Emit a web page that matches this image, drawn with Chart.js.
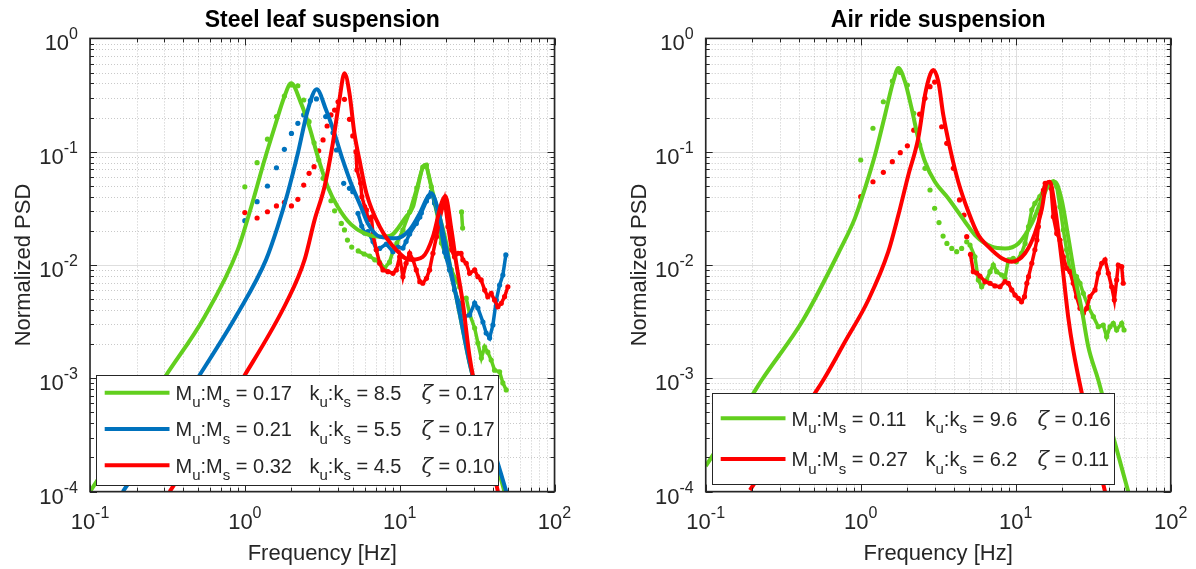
<!DOCTYPE html>
<html>
<head>
<meta charset="utf-8">
<script src="https://cdn.jsdelivr.net/npm/chart.js@4.4.1/dist/chart.umd.min.js"></script>
<style>
  body { margin: 0; background: #fff; }
  .wrap { position: relative; width: 1196px; height: 569px; }
  canvas { position: absolute; top: 0; }
</style>
</head>
<body>
<div class="wrap">
  <canvas id="steelChart" width="598" height="569" style="left:0"></canvas>
  <canvas id="airChart" width="598" height="569" style="left:598px"></canvas>
</div>
<script>
// Decades shown on the log axes
const xDecades = [-1, 0, 1, 2];
const yDecades = [-4, -3, -2, -1, 0];

// --- Steel leaf suspension: fitted model curves ---
const steelGreenFitF = [0.1, 0.311, 0.55, 0.90, 1.10, 1.34, 1.56, 1.80, 1.99, 2.31, 2.61, 2.96, 3.43, 3.98, 4.85, 5.92, 7.4, 8.6, 11.0, 12.2, 12.8, 14.5, 16.4, 18.1, 20.0, 21.0, 23.2, 25.6, 28.3, 47.5];
const steelGreenFitP = [1.0e-4, 1.07e-3, 3.5e-3, 0.0136, 0.0327, 0.0845, 0.166, 0.306, 0.402, 0.267, 0.166, 0.0903, 0.0491, 0.0327, 0.0228, 0.0190, 0.0178, 0.0180, 0.0267, 0.0327, 0.043, 0.0763, 0.043, 0.0267, 0.0155, 0.01035, 5.25e-3, 2.67e-3, 1.36e-3, 1.0e-4];

const steelBlueFitF = [0.163, 0.511, 0.90, 1.37, 1.63, 1.89, 2.20, 2.55, 2.91, 3.35, 3.79, 4.29, 4.85, 5.62, 6.22, 7.43, 9.52, 11.6, 13.5, 15.2, 16.0, 17.7, 19.5, 21.6, 24.4, 28.3, 48.8];
const steelBlueFitP = [1.0e-4, 1.07e-3, 3.75e-3, 0.0111, 0.0218, 0.043, 0.0968, 0.233, 0.355, 0.233, 0.145, 0.0845, 0.0526, 0.0327, 0.0233, 0.0178, 0.0172, 0.0204, 0.0286, 0.0401, 0.043, 0.0306, 0.0166, 8.45e-3, 3.75e-3, 1.36e-3, 1.0e-4];

const steelRedFitF = [0.327, 1.0, 1.89, 2.43, 2.82, 3.27, 3.70, 4.08, 4.40, 4.74, 5.10, 5.50, 6.10, 7.43, 9.52, 11.6, 14.1, 16.4, 18.6, 19.7, 21.6, 23.2, 25.6, 28.3, 43.1];
const steelRedFitP = [1.0e-4, 1.07e-3, 4.91e-3, 0.0111, 0.0249, 0.0491, 0.1186, 0.286, 0.492, 0.328, 0.145, 0.0845, 0.043, 0.0218, 0.01356, 0.0111, 0.0118, 0.0178, 0.035, 0.0406, 0.0204, 0.01035, 4.59e-3, 1.55e-3, 1.0e-4];

// --- Steel leaf suspension: measured PSD ---
const steelGreenMeasF = [1.0, 1.2, 1.4, 1.6, 1.8, 2.0, 2.2, 2.4, 2.6, 2.8, 3.0, 3.2, 3.6, 3.8, 4.2, 4.4, 4.6, 4.9, 5.4, 5.9, 6.4, 6.9, 7.4, 8.0, 8.6, 9.1, 9.6, 10.5, 11.6, 12.9, 14.1, 14.9, 16.0, 16.8, 17.7, 18.6, 20.0, 21.6, 23.2, 24.4, 25.1, 25.5, 26.9, 28.3, 30.5, 32.0, 33.7, 35.4, 37.1, 39.0, 41.0, 44.2, 46.4, 48.8];
const steelGreenMeasP = [0.049, 0.080, 0.129, 0.204, 0.31, 0.388, 0.382, 0.286, 0.184, 0.12, 0.0845, 0.0582, 0.0369, 0.0301, 0.0233, 0.0204, 0.0166, 0.0144, 0.0133, 0.0125, 0.012, 0.0111, 0.0106, 0.0094, 0.0106, 0.0136, 0.0156, 0.0204, 0.0294, 0.0478, 0.0733, 0.0763, 0.0491, 0.0353, 0.0249, 0.0156, 0.0118, 0.00904, 0.00738, 0.0064, 0.0294, 0.0212, 0.00511, 0.0037, 0.00278, 0.00205, 0.00151, 0.00189, 0.0017, 0.00145, 0.00118, 0.00114, 0.00091, 0.00079];

const steelBlueMeasF = [1.0, 1.2, 1.4, 1.6, 1.8, 2.0, 2.2, 2.4, 2.65, 2.9, 3.33, 3.71, 3.91, 4.35, 4.74, 4.98, 5.38, 5.69, 5.94, 6.24, 6.73, 7.07, 7.43, 8.2, 9.05, 9.75, 10.5, 11.0, 11.6, 12.8, 13.5, 13.8, 14.9, 15.4, 16.0, 16.8, 18.1, 19.5, 21.0, 22.6, 24.4, 26.3, 28.3, 30.5, 32.0, 34.5, 36.2, 38.1, 40.0, 42.1, 44.2, 46.4, 48.5];
const steelBlueMeasP = [0.0246, 0.0362, 0.0498, 0.0722, 0.105, 0.145, 0.178, 0.211, 0.282, 0.292, 0.204, 0.147, 0.1035, 0.0526, 0.0475, 0.0443, 0.0286, 0.0221, 0.0192, 0.0197, 0.0161, 0.0136, 0.014, 0.0153, 0.0131, 0.0144, 0.0141, 0.0161, 0.0188, 0.0233, 0.0265, 0.0288, 0.0367, 0.0401, 0.0443, 0.0353, 0.024, 0.013, 0.00904, 0.00601, 0.00459, 0.0035, 0.00362, 0.00462, 0.00417, 0.00314, 0.00251, 0.00227, 0.00295, 0.00491, 0.00666, 0.00816, 0.01226];

const steelRedMeasF = [1.0, 1.2, 1.4, 1.6, 1.8, 2.0, 2.2, 2.4, 2.6, 2.8, 3.0, 3.2, 3.4, 3.6, 3.8, 4.0, 4.4, 4.74, 4.98, 5.22, 5.30, 5.6, 5.7, 5.94, 6.1, 6.24, 6.57, 6.73, 7.07, 7.43, 7.8, 8.4, 9.05, 9.52, 10.0, 10.5, 11.0, 11.6, 12.2, 12.8, 13.5, 14.1, 14.9, 15.6, 16.4, 17.3, 18.1, 19.0, 19.5, 20.5, 21.6, 22.6, 23.8, 24.9, 25.6, 26.9, 28.3, 30.5, 32.0, 33.6, 35.4, 37.1, 39.0, 41.0, 43.1, 45.3, 47.6, 50.0];
const steelRedMeasP = [0.029, 0.026, 0.0295, 0.0332, 0.0358, 0.0332, 0.038, 0.0508, 0.0645, 0.0738, 0.102, 0.127, 0.1686, 0.211, 0.233, 0.276, 0.29, 0.193, 0.1377, 0.1, 0.069, 0.0526, 0.0401, 0.0327, 0.0306, 0.0249, 0.0265, 0.0184, 0.0136, 0.01035, 0.00904, 0.00873, 0.00845, 0.00904, 0.0118, 0.00789, 0.01035, 0.0127, 0.0111, 0.00904, 0.00713, 0.0069, 0.00763, 0.00904, 0.0127, 0.0178, 0.0249, 0.0327, 0.0375, 0.0218, 0.0136, 0.0118, 0.0127, 0.0127, 0.0111, 0.01035, 0.00845, 0.00904, 0.00789, 0.00738, 0.00601, 0.00525, 0.00562, 0.00491, 0.00428, 0.00459, 0.00525, 0.00643];

// --- Air ride suspension: fitted model curves ---
const airGreenFitF = [0.1, 0.203, 0.23, 0.425, 0.735, 0.917, 1.066, 1.237, 1.435, 1.62, 1.75, 1.93, 2.13, 2.35, 2.6, 3.01, 3.67, 4.71, 5.46, 7.0, 8.53, 10.4, 12.7, 14.7, 17.1, 17.9, 19.8, 21.8, 24.1, 26.7, 29.4, 34.1, 42.6, 53.2];
const airGreenFitP = [1.68e-4, 7.38e-4, 9.66e-4, 3.27e-3, 0.0136, 0.0258, 0.0475, 0.0935, 0.211, 0.415, 0.548, 0.415, 0.2415, 0.131, 0.0816, 0.0543, 0.0388, 0.0241, 0.0184, 0.0145, 0.014, 0.0155, 0.0233, 0.0375, 0.0543, 0.0543, 0.0375, 0.0178, 0.00789, 0.00401, 0.0019, 9.66e-4, 3.05e-4, 1.0e-4];

const airRedFitF = [0.193, 0.333, 0.574, 0.792, 1.12, 1.507, 1.75, 2.03, 2.35, 2.6, 2.8, 2.94, 3.17, 3.41, 3.77, 4.26, 4.95, 5.74, 6.66, 8.13, 9.43, 11.5, 13.3, 14.7, 15.85, 16.6, 17.9, 19.8, 21.8, 23.5, 26.7, 37.7];
const airRedFitP = [1.03e-4, 3.17e-4, 9.66e-4, 2.1e-3, 4.91e-3, 0.0131, 0.0276, 0.0623, 0.131, 0.3166, 0.475, 0.5255, 0.415, 0.211, 0.107, 0.0543, 0.0295, 0.0184, 0.0145, 0.01146, 0.0107, 0.0127, 0.019, 0.0306, 0.0526, 0.0543, 0.0327, 0.0111, 0.0035, 0.00178, 7.38e-4, 1.0e-4];

// --- Air ride suspension: measured PSD ---
const airGreenMeasF = [1.0, 1.2, 1.4, 1.6, 1.8, 2.0, 2.2, 2.4, 2.6, 2.8, 3.0, 3.2, 3.4, 3.6, 3.87, 4.16, 4.48, 4.83, 5.07, 5.46, 5.74, 6.03, 6.5, 6.83, 7.17, 7.54, 8.13, 8.53, 8.96, 9.65, 10.1, 10.9, 11.5, 12.1, 12.7, 13.3, 14.3, 15.5, 16.6, 17.5, 18.4, 19.3, 20.3, 21.3, 22.4, 23.5, 24.7, 26.0, 27.3, 29.4, 31.7, 34.1, 36.7, 38.6, 40.6, 42.6, 44.8, 48.3, 50.0];
const airGreenMeasP = [0.0845, 0.161, 0.276, 0.42, 0.50, 0.388, 0.218, 0.1146, 0.0714, 0.0459, 0.0317, 0.0237, 0.018, 0.0155, 0.014, 0.0131, 0.014, 0.016, 0.015, 0.0118, 0.00738, 0.00643, 0.00738, 0.00873, 0.01, 0.00873, 0.00816, 0.00763, 0.0111, 0.01146, 0.0107, 0.0127, 0.0155, 0.0218, 0.0306, 0.035, 0.0401, 0.0491, 0.0508, 0.0543, 0.0491, 0.0327, 0.0204, 0.0136, 0.00904, 0.00845, 0.00789, 0.0069, 0.00562, 0.00428, 0.0035, 0.00285, 0.00295, 0.00233, 0.00285, 0.00306, 0.00267, 0.00306, 0.00267];

const airRedMeasF = [1.0, 1.2, 1.4, 1.6, 1.8, 2.0, 2.2, 2.4, 2.6, 2.8, 3.0, 3.33, 3.59, 3.96, 4.34, 4.64, 4.83, 5.11, 5.33, 5.6, 5.88, 6.34, 6.83, 7.35, 7.92, 8.53, 8.96, 9.43, 9.9, 10.4, 10.9, 11.4, 11.8, 12.1, 12.7, 13.3, 13.7, 14.0, 14.3, 14.7, 15.1, 15.5, 16.2, 16.9, 17.5, 18.4, 19.3, 20.3, 21.3, 22.4, 23.5, 24.7, 26.0, 27.3, 28.7, 30.1, 32.5, 34.1, 35.9, 37.7, 39.6, 41.6, 43.3, 44.8, 45.9, 48.3, 49.4];
const airRedMeasP = [0.0401, 0.0543, 0.0658, 0.0816, 0.098, 0.1127, 0.155, 0.2143, 0.296, 0.375, 0.412, 0.166, 0.1186, 0.0714, 0.0375, 0.0276, 0.0178, 0.0124, 0.00873, 0.0085, 0.008, 0.00713, 0.0069, 0.00653, 0.00643, 0.00713, 0.0069, 0.00602, 0.00543, 0.00508, 0.00474, 0.00525, 0.0069, 0.00789, 0.01035, 0.0136, 0.0166, 0.0218, 0.0286, 0.0375, 0.0459, 0.0526, 0.0526, 0.0475, 0.0267, 0.019, 0.0166, 0.0118, 0.00935, 0.00873, 0.0069, 0.00525, 0.00415, 0.00375, 0.00415, 0.00525, 0.00602, 0.00845, 0.01035, 0.0111, 0.00845, 0.00643, 0.00491, 0.00738, 0.01, 0.00966, 0.0069];

// Legend parameters (mass ratio, stiffness ratio, damping)
const steelMassRatio = ['0.17', '0.21', '0.32'];
const steelStiffRatio = ['8.5', '5.5', '4.5'];
const steelDamping = ['0.17', '0.17', '0.10'];
const airMassRatio = ['0.11', '0.27'];
const airStiffRatio = ['9.6', '6.2'];
const airDamping = ['0.16', '0.11'];

const GREEN = '#62cf1e';
const BLUE = '#0072bd';
const RED = '#ff0000';
const INK = '#262626';
const FONT = '"Liberation Sans", Arial, Helvetica, sans-serif';

function toPoints(fs, ps) {
  return fs.map((f, i) => ({ x: f, y: ps[i] }));
}

function fitSet(fs, ps, color, order) {
  return {
    data: toPoints(fs, ps),
    borderColor: color,
    borderWidth: 4,
    pointRadius: 0,
    cubicInterpolationMode: 'monotone',
    order: order,
    clip: 0
  };
}

// measured points: dots, joined into a streak only where the spectrum is dense
function measSet(fs, ps, color, order) {
  return {
    data: toPoints(fs, ps),
    borderColor: color,
    backgroundColor: color,
    borderWidth: 3.5,
    pointRadius: 2.6,
    pointBorderWidth: 0,
    pointBackgroundColor: color,
    tension: 0,
    order: order,
    clip: 0,
    segment: {
      borderColor: c => {
        const f0 = fs[c.p0DataIndex];
        const dx = Math.abs(c.p1.x - c.p0.x);
        const dy = Math.abs(c.p1.y - c.p0.y);
        return (f0 >= 5 && dx <= 12 && dy <= 45) ? undefined : 'transparent';
      }
    }
  };
}

function minorValues(decades) {
  const out = [];
  for (let i = 0; i < decades.length - 1; i++) {
    for (let m = 2; m <= 9; m++) out.push(m * Math.pow(10, decades[i]));
  }
  return out;
}

const crisp = v => Math.round(v) + 0.5;

function drawPower(ctx, exp, x, y, align) {
  // "10" with a raised exponent; y is the baseline of "10"
  ctx.font = '22px ' + FONT;
  const wb = ctx.measureText('10').width;
  ctx.font = '16px ' + FONT;
  const ws = ctx.measureText(String(exp)).width;
  let x0 = align === 'right' ? x - wb - ws : x - (wb + ws) / 2;
  ctx.textAlign = 'left';
  ctx.textBaseline = 'alphabetic';
  ctx.font = '22px ' + FONT;
  ctx.fillText('10', x0, y);
  ctx.font = '16px ' + FONT;
  ctx.fillText(String(exp), x0 + wb, y - 11);
}

function drawParts(ctx, x, y, parts) {
  let cx = x;
  parts.forEach(([t, kind]) => {
    if (kind === 'sub') {
      ctx.font = '15px ' + FONT;
      ctx.fillText(t, cx, y + 7.5);
    } else if (kind === 'greek') {
      ctx.font = 'italic 21px "DejaVu Serif", "Liberation Serif", serif';
      ctx.fillText(t, cx, y);
    } else {
      ctx.font = '20px ' + FONT;
      ctx.fillText(t, cx, y);
    }
    cx += ctx.measureText(t).width;
  });
}

const matlabFrame = {
  id: 'matlabFrame',
  beforeDatasetsDraw(chart, args, opts) {
    const { ctx, chartArea: a, scales: { x, y } } = chart;
    ctx.save();
    ctx.lineWidth = 1;
    // minor grid (dotted)
    ctx.strokeStyle = 'rgba(38,38,38,0.25)';
    ctx.setLineDash([1, 2]);
    ctx.beginPath();
    minorValues(xDecades).forEach(v => {
      const px = crisp(x.getPixelForValue(v));
      ctx.moveTo(px, a.top); ctx.lineTo(px, a.bottom);
    });
    minorValues(yDecades).forEach(v => {
      const py = crisp(y.getPixelForValue(v));
      ctx.moveTo(a.left, py); ctx.lineTo(a.right, py);
    });
    ctx.stroke();
    // major grid (solid)
    ctx.setLineDash([]);
    ctx.strokeStyle = '#dedede';
    ctx.beginPath();
    xDecades.forEach(d => {
      const px = crisp(x.getPixelForValue(Math.pow(10, d)));
      ctx.moveTo(px, a.top); ctx.lineTo(px, a.bottom);
    });
    yDecades.forEach(d => {
      const py = crisp(y.getPixelForValue(Math.pow(10, d)));
      ctx.moveTo(a.left, py); ctx.lineTo(a.right, py);
    });
    ctx.stroke();
    ctx.restore();
  },
  afterDatasetsDraw(chart, args, opts) {
    const { ctx, chartArea: a, scales: { x, y } } = chart;
    ctx.save();

    // ticks on all four sides, pointing inward
    ctx.strokeStyle = INK;
    ctx.lineWidth = 1;
    ctx.beginPath();
    const xTick = (v, len) => {
      const px = crisp(x.getPixelForValue(v));
      ctx.moveTo(px, a.bottom); ctx.lineTo(px, a.bottom - len);
      ctx.moveTo(px, a.top); ctx.lineTo(px, a.top + len);
    };
    const yTick = (v, len) => {
      const py = crisp(y.getPixelForValue(v));
      ctx.moveTo(a.left, py); ctx.lineTo(a.left + len, py);
      ctx.moveTo(a.right, py); ctx.lineTo(a.right - len, py);
    };
    xDecades.forEach(d => xTick(Math.pow(10, d), 7));
    minorValues(xDecades).forEach(v => xTick(v, 4));
    yDecades.forEach(d => yTick(Math.pow(10, d), 7));
    minorValues(yDecades).forEach(v => yTick(v, 4));
    ctx.stroke();

    // axes box
    ctx.lineWidth = 1.6;
    ctx.strokeRect(a.left, a.top, a.right - a.left, a.bottom - a.top);

    // tick labels
    ctx.fillStyle = INK;
    xDecades.forEach(d => drawPower(ctx, d, x.getPixelForValue(Math.pow(10, d)), a.bottom + 37, 'center'));
    yDecades.forEach(d => drawPower(ctx, d, a.left - 12, y.getPixelForValue(Math.pow(10, d)) + 12, 'right'));

    // axis titles
    const cx = (a.left + a.right) / 2;
    const cy = (a.top + a.bottom) / 2;
    ctx.font = '22px ' + FONT;
    ctx.textAlign = 'center';
    ctx.textBaseline = 'alphabetic';
    ctx.fillText('Frequency [Hz]', cx, 560);
    ctx.save();
    ctx.translate(a.left - 60, cy);
    ctx.rotate(-Math.PI / 2);
    ctx.fillText('Normalized PSD', 0, 0);
    ctx.restore();

    // plot title
    ctx.fillStyle = '#000';
    ctx.font = 'bold 23px ' + FONT;
    ctx.fillText(opts.title, cx, 27);

    // legend
    const lg = opts.legend;
    const bx = a.left + lg.dx, by = a.bottom - lg.bottomGap - lg.h;
    ctx.fillStyle = '#fff';
    ctx.fillRect(bx, by, lg.w, lg.h);
    ctx.lineWidth = 1;
    ctx.strokeStyle = INK;
    ctx.strokeRect(crisp(bx), crisp(by), Math.round(lg.w), Math.round(lg.h));
    ctx.textAlign = 'left';
    lg.colors.forEach((col, i) => {
      const ry = by + lg.rowTop + i * lg.rowStep;
      ctx.strokeStyle = col;
      ctx.lineWidth = 4;
      ctx.beginPath();
      ctx.moveTo(bx + 8.7, ry); ctx.lineTo(bx + 73.5, ry);
      ctx.stroke();
      ctx.fillStyle = INK;
      const tx = bx + 79.5, ty = ry + 7.2;
      drawParts(ctx, tx, ty, [['M'], ['u', 'sub'], [':M'], ['s', 'sub'], [' = ' + lg.mass[i]]]);
      drawParts(ctx, tx + 134, ty, [['k'], ['u', 'sub'], [':k'], ['s', 'sub'], [' = ' + lg.stiff[i]]]);
      drawParts(ctx, tx + 246, ty, [['\u03B6', 'greek'], [' = ' + lg.damp[i]]]);
    });
    ctx.restore();
  }
};

function makeChart(id, datasets, padding, title, legend) {
  return new Chart(document.getElementById(id), {
    type: 'line',
    data: { datasets },
    options: {
      responsive: false,
      animation: false,
      devicePixelRatio: 1,
      events: [],
      layout: { padding },
      scales: {
        x: { type: 'logarithmic', min: 0.1, max: 100, display: false },
        y: { type: 'logarithmic', min: 1e-4, max: 1, display: false }
      },
      plugins: {
        legend: { display: false },
        tooltip: { enabled: false },
        matlabFrame: { title, legend }
      }
    },
    plugins: [matlabFrame]
  });
}

makeChart('steelChart', [
  fitSet(steelRedFitF, steelRedFitP, RED, 0),
  fitSet(steelBlueFitF, steelBlueFitP, BLUE, 1),
  fitSet(steelGreenFitF, steelGreenFitP, GREEN, 2),
  measSet(steelRedMeasF, steelRedMeasP, RED, 3),
  measSet(steelBlueMeasF, steelBlueMeasP, BLUE, 4),
  measSet(steelGreenMeasF, steelGreenMeasP, GREEN, 5)
], { left: 90, right: 43.5, top: 38.4, bottom: 77.4 }, 'Steel leaf suspension', {
  dx: 6, w: 402, h: 110, bottomGap: 6.6, rowTop: 17.7, rowStep: 36.3,
  colors: [GREEN, BLUE, RED], mass: steelMassRatio, stiff: steelStiffRatio, damp: steelDamping
});

makeChart('airChart', [
  fitSet(airRedFitF, airRedFitP, RED, 0),
  fitSet(airGreenFitF, airGreenFitP, GREEN, 1),
  measSet(airRedMeasF, airRedMeasP, RED, 2),
  measSet(airGreenMeasF, airGreenMeasP, GREEN, 3)
], { left: 107.7, right: 25.3, top: 38.4, bottom: 77.4 }, 'Air ride suspension', {
  dx: 6.3, w: 402, h: 91, bottomGap: 7.3, rowTop: 25, rowStep: 40.7,
  colors: [GREEN, RED], mass: airMassRatio, stiff: airStiffRatio, damp: airDamping
});
</script>
</body>
</html>
